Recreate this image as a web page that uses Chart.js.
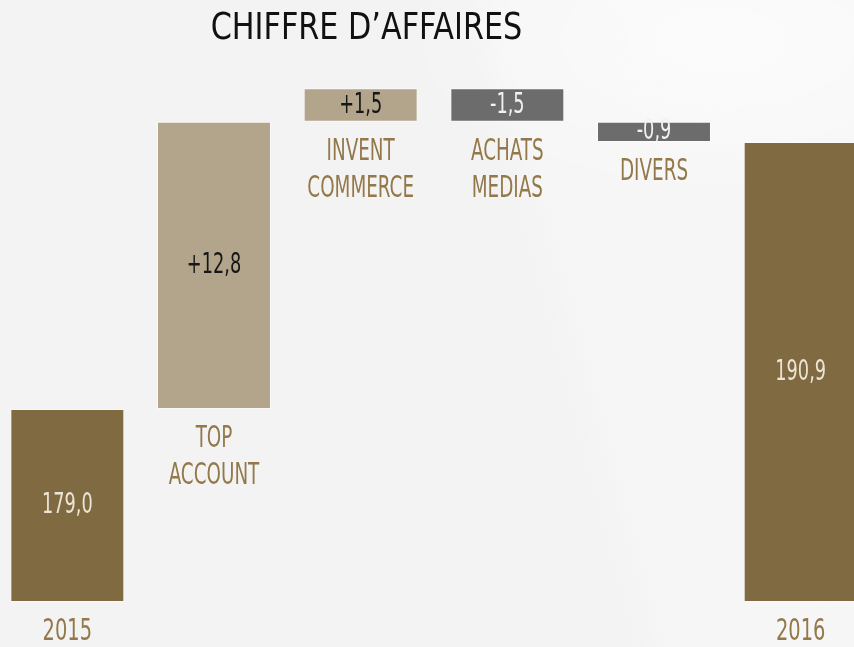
<!DOCTYPE html>
<html>
<head>
<meta charset="utf-8">
<script src="https://cdn.jsdelivr.net/npm/chart.js@4/dist/chart.umd.min.js"></script>
<style>
  html, body { margin: 0; padding: 0; width: 854px; height: 647px; overflow: hidden; }
  body {
    background:
      radial-gradient(ellipse 320px 160px at 720px 40px, rgba(255,255,255,0.55), rgba(255,255,255,0)),
      linear-gradient(75deg, #f3f3f3 0%, #f3f3f3 62%, #f6f6f6 65%, #f7f7f7 100%);
  }
  #wrap { position: absolute; left: -6px; top: 0; width: 880px; height: 647px; }
</style>
</head>
<body>
<div id="wrap"><canvas id="chart"></canvas></div>
<script>
// waterfall: chiffre d'affaires 2015 -> 2016
const categories = ['2015', 'TOP ACCOUNT', 'INVENT COMMERCE', 'ACHATS MEDIAS', 'DIVERS', '2016'];
const labelLines = [['2015'], ['TOP', 'ACCOUNT'], ['INVENT', 'COMMERCE'], ['ACHATS', 'MEDIAS'], ['DIVERS'], ['2016']];
const values = [179.0, 12.8, 1.5, -1.5, -0.9, 190.9];
const valueLabels = ['179,0', '+12,8', '+1,5', '-1,5', '-0,9', '190,9'];
const isTotal = [true, false, false, false, false, true];
const yMin = 170.4;
const yMax = 195.0;

const GOLD = '#806a41';
const TAN = '#b2a58b';
const GREY = '#6c6c6c';
const LABEL = '#93784a';
const FONT = '"Liberation Sans Narrow", "DejaVu Sans Condensed", sans-serif';

// floating ranges from the running total, totals start at the axis floor
let running = 0;
const barData = values.map((v, i) => {
  if (isTotal[i]) { running = v; return [yMin, v]; }
  const start = running;
  running = +(running + v).toFixed(1);
  return [start, running];
});
const barColors = values.map((v, i) => isTotal[i] ? GOLD : (v >= 0 ? TAN : GREY));
const textColors = values.map((v, i) => isTotal[i] ? '#ece5d6' : (v >= 0 ? '#161616' : '#f2f2f2'));

function drawText(ctx, text, x, y, font, color, sx) {
  ctx.save();
  ctx.translate(x, y);
  ctx.scale(sx, 1);
  ctx.font = font;
  ctx.fillStyle = color;
  ctx.textAlign = 'center';
  ctx.textBaseline = 'middle';
  ctx.fillText(text, 0, 0);
  ctx.restore();
}

const labelsPlugin = {
  id: 'waterfallLabels',
  afterDatasetsDraw(chart) {
    const ctx = chart.ctx;
    const meta = chart.getDatasetMeta(0);
    meta.data.forEach((bar, i) => {
      const top = Math.min(bar.y, bar.base);
      const bottom = Math.max(bar.y, bar.base);
      drawText(ctx, valueLabels[i], bar.x, (top + bottom) / 2, '29px ' + FONT, textColors[i], 0.68);
      labelLines[i].forEach((line, k) => {
        const sx = /^\d+$/.test(line) ? 0.72 : 0.68;
        drawText(ctx, line, bar.x, bottom + 30 + k * 37, '30px ' + FONT, LABEL, sx);
      });
    });
    drawText(ctx, 'CHIFFRE D\u2019AFFAIRES', 372.5, 29, '38px ' + FONT, '#111111', 0.885);
  }
};

new Chart(document.getElementById('chart'), {
  type: 'bar',
  data: {
    labels: categories,
    datasets: [{
      data: barData,
      backgroundColor: barColors,
      borderColor: 'rgba(255,255,255,0.45)',
      borderWidth: 1,
      borderSkipped: false,
      barPercentage: 0.777,
      categoryPercentage: 1
    }]
  },
  options: {
    responsive: true,
    maintainAspectRatio: false,
    animation: false,
    layout: { padding: { top: 50, bottom: 45, left: 0, right: 0 } },
    plugins: { legend: { display: false }, tooltip: { enabled: false } },
    scales: {
      x: { display: false, offset: true },
      y: { display: false, min: yMin, max: yMax }
    }
  },
  plugins: [labelsPlugin]
});
</script>
</body>
</html>
